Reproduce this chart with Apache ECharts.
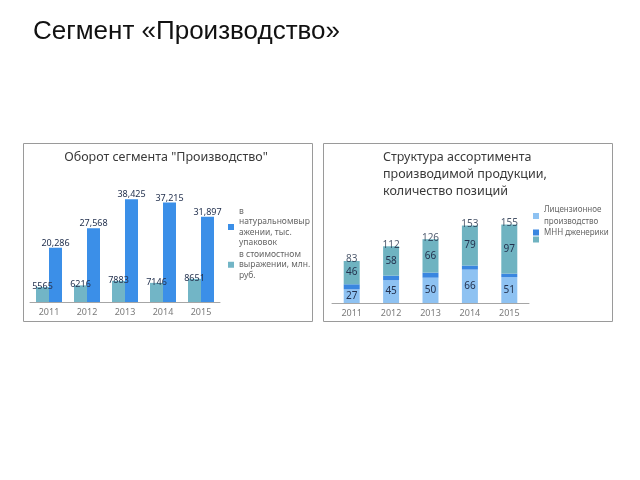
<!DOCTYPE html>
<html><head><meta charset="utf-8">
<script src="https://cdn.jsdelivr.net/npm/echarts@6/dist/echarts.min.js"></script>
<style>html,body{margin:0;padding:0;background:#fff}#c{width:640px;height:480px}</style>
</head><body><div id="c"></div>
<script>
// Data
const years = ['2011', '2012', '2013', '2014', '2015'];
const turnoverMoney = [5565, 6216, 7883, 7146, 8651];      // в стоимостном выражении, млн. руб.
const turnoverUnits = [20286, 27568, 38425, 37215, 31897];  // в натуральном выражении, тыс. упаковок
const licensed = [27, 45, 50, 66, 51];   // Лицензионное производство
const generics = [10, 9, 10, 8, 7];      // МНН дженерики
const otherPos = [46, 58, 66, 79, 97];   // третья группа
const totals = [83, 112, 126, 153, 155];

const nameUnits = 'в натуральном выражении, тыс. упаковок';
const nameMoney = 'в стоимостном выражении, млн. руб.';
const nameLic = 'Лицензионное производство';
const nameGen = 'МНН дженерики';
const nameOther = 'Прочие позиции';

const legendText = {};
legendText[nameUnits] = 'в\nнатуральномвыр\nажении, тыс.\nупаковок';
legendText[nameMoney] = 'в стоимостном\nвыражении, млн.\nруб.';
legendText[nameLic] = 'Лицензионное\nпроизводство';
legendText[nameGen] = 'МНН дженерики';
legendText[nameOther] = '';

const cBlue = '#3b8fe8', cTeal = '#72b5c6';
const cLight = '#8ec2f2', cMid = '#3a86e0', cTeal2 = '#6fb3c1';
const lblColor = '#24324f';
const font = 'Noto Sans';

const chart = echarts.init(document.getElementById('c'), null, {renderer: 'canvas'});

function axisX(gi) {
  return {
    gridIndex: gi, type: 'category', data: years,
    axisLine: {lineStyle: {color: '#a6a6a6'}},
    axisTick: {length: 3, lineStyle: {color: '#a6a6a6'}},
    axisLabel: {color: '#7a7a7a', fontSize: 9, margin: 6, fontFamily: font}
  };
}
function legendOf(name, left, top, lh, fs) {
  return {
    data: [name], orient: 'vertical', left: left, top: top,
    itemWidth: 6, itemHeight: 6, icon: 'rect', padding: 0,
    formatter: n => legendText[n],
    textStyle: {fontSize: fs, lineHeight: lh, color: '#666', fontFamily: font}
  };
}

const option = {
  animation: false,
  textStyle: {fontFamily: font},
  title: {
    text: 'Сегмент «Производство»', left: 33, top: 19, padding: 0,
    textStyle: {fontFamily: 'Liberation Sans', fontSize: 26, fontWeight: 'normal', color: '#111'}
  },
  graphic: [
    {type: 'rect', shape: {x: 23.5, y: 143.5, width: 289, height: 178}, style: {fill: 'none', stroke: '#9a9a9a', lineWidth: 1}},
    {type: 'rect', shape: {x: 323.5, y: 143.5, width: 289, height: 178}, style: {fill: 'none', stroke: '#9a9a9a', lineWidth: 1}},
    {type: 'text', x: 166, y: 157, style: {text: 'Оборот сегмента "Производство"', font: '12.5px "Noto Sans"', fill: '#3a3a3a', textAlign: 'center', textVerticalAlign: 'middle'}},
    {type: 'text', x: 383, y: 149, style: {text: 'Структура ассортимента\nпроизводимой продукции,\nколичество позиций', font: '12.5px "Noto Sans"', lineHeight: 17, fill: '#3a3a3a', textAlign: 'left', textVerticalAlign: 'top'}}
  ],
  legend: [
    legendOf(nameUnits, 228, 206, 10.5, 8.5),
    legendOf(nameMoney, 228, 249, 10.5, 8.5),
    legendOf(nameLic, 533, 204, 12, 8),
    legendOf(nameGen, 533, 227, 11, 8),
    legendOf(nameOther, 533, 236.5, 6, 8)
  ],
  grid: [
    {left: 30, width: 190, top: 195, height: 107},
    {left: 332, width: 197, top: 222, height: 81}
  ],
  xAxis: [axisX(0), axisX(1)],
  yAxis: [
    {gridIndex: 0, type: 'value', min: 0, max: 40000, show: false},
    {gridIndex: 1, type: 'value', min: 0, max: 160, show: false}
  ],
  series: [
    {
      name: nameMoney, type: 'bar', xAxisIndex: 0, yAxisIndex: 0, data: turnoverMoney,
      barWidth: 13, barGap: '0%', itemStyle: {color: cTeal},
      label: {show: true, position: 'top', distance: -4, fontSize: 9, color: lblColor}
    },
    {
      name: nameUnits, type: 'bar', xAxisIndex: 0, yAxisIndex: 0, data: turnoverUnits,
      barWidth: 13, barGap: '0%', itemStyle: {color: cBlue},
      label: {show: true, position: 'top', distance: 0, fontSize: 9, color: lblColor,
        formatter: p => p.value.toLocaleString('en-US')}
    },
    {
      name: nameLic, type: 'bar', xAxisIndex: 1, yAxisIndex: 1, stack: 's', data: licensed,
      barWidth: 16, itemStyle: {color: cLight},
      label: {show: true, position: 'inside', fontSize: 10, color: lblColor}
    },
    {
      name: nameGen, type: 'bar', xAxisIndex: 1, yAxisIndex: 1, stack: 's', data: generics,
      barWidth: 16, itemStyle: {color: cMid}
    },
    {
      name: nameOther, type: 'bar', xAxisIndex: 1, yAxisIndex: 1, stack: 's', data: otherPos,
      barWidth: 16, itemStyle: {color: cTeal2},
      label: {show: true, position: 'inside', fontSize: 10, color: lblColor}
    },
    {
      name: 'Итого', type: 'scatter', xAxisIndex: 1, yAxisIndex: 1, data: totals,
      symbolSize: 1, itemStyle: {color: 'rgba(0,0,0,0)'}, silent: true, z: 5,
      label: {show: true, position: 'top', distance: -4, fontSize: 10, color: '#1c2a44'}
    }
  ]
};
chart.setOption(option);
</script>
</body></html>
